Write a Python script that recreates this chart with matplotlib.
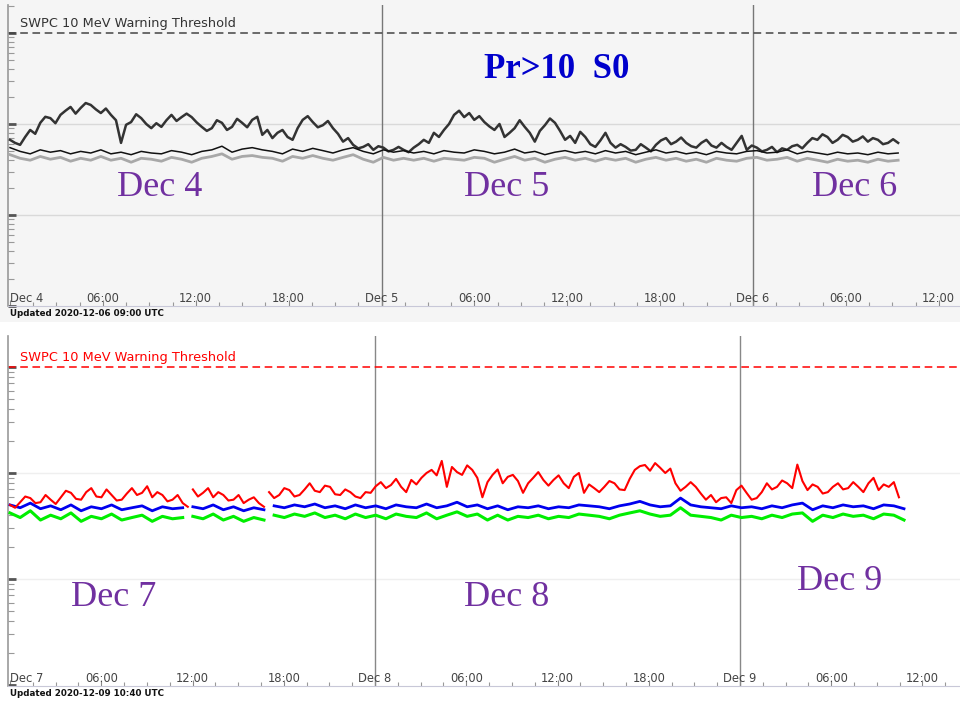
import numpy as np
import matplotlib
matplotlib.use("Agg")
import matplotlib.pyplot as plt
from matplotlib.patches import Rectangle
from matplotlib.ticker import LogLocator, NullFormatter, FixedLocator
import matplotlib.transforms as mtransforms

nan = float("nan")

# ---------------- data (pfu) ----------------
# Top panel: Dec 4 00:00 UTC onwards
top_dark_step_h = 0.326
top_dark = [0.67,0.62, 0.59,0.72, 0.86,0.78, 1.03,1.20, 1.16,1.02, 1.26,1.40, 1.54,1.30, 1.50,1.70,
            1.62,1.45, 1.32,1.48, 1.26,1.10, 0.62,0.98, 1.05,1.28, 1.16,1.00, 0.90,1.02, 0.93,1.10,
            1.26,1.08, 1.19,1.30, 1.19,1.04, 0.93,0.84, 0.90,1.10, 1.03,0.86, 0.93,1.14, 1.03,0.92,
            1.11,1.20, 0.76,0.86, 0.70,0.80, 0.86,0.72, 0.67,0.90, 1.11,1.22, 1.05,0.92, 0.97,1.08,
            0.90,0.78, 0.64,0.70, 0.59,0.54, 0.56,0.60, 0.52,0.57, 0.55,0.50, 0.52,0.56, 0.52,0.49,
            0.55,0.60, 0.67,0.62, 0.80,0.72, 0.86,1.00, 1.26,1.40, 1.19,1.32, 1.11,1.22, 1.05,0.94,
            0.86,1.00, 0.72,0.80, 0.90,1.10, 0.93,0.80, 0.64,0.84, 0.97,1.15, 1.03,0.84, 0.67,0.74,
            0.62,0.82, 0.72,0.60, 0.56,0.66, 0.80,0.62, 0.55,0.60, 0.56,0.51, 0.52,0.60, 0.55,0.50,
            0.59,0.66, 0.70,0.60, 0.64,0.71, 0.62,0.57, 0.55,0.62, 0.67,0.58, 0.55,0.62, 0.56,0.52,
            0.62,0.74, 0.52,0.58, 0.55,0.50, 0.52,0.56, 0.49,0.54, 0.52,0.57, 0.59,0.54, 0.62,0.70,
            0.67,0.77, 0.72,0.62, 0.67,0.76, 0.72,0.64, 0.67,0.73, 0.64,0.70, 0.67,0.60, 0.62,0.68,
            0.62]
top_step_h = 0.652
top_black = [0.55,0.50,0.47,0.52,0.49,0.51,0.47,0.50,0.48,0.52,0.47,0.49,0.46,0.50,0.48,0.47,
             0.51,0.49,0.46,0.50,0.52,0.57,0.49,0.53,0.55,0.52,0.50,0.47,0.53,0.50,0.54,0.51,
             0.48,0.52,0.55,0.50,0.47,0.52,0.49,0.51,0.48,0.50,0.47,0.51,0.49,0.48,0.52,0.50,
             0.47,0.49,0.53,0.48,0.50,0.46,0.49,0.51,0.48,0.50,0.47,0.51,0.48,0.50,0.46,0.49,
             0.52,0.48,0.50,0.47,0.49,0.46,0.50,0.48,0.47,0.50,0.51,0.48,0.49,0.52,0.47,0.50,
             0.48,0.46,0.49,0.47,0.48,0.46,0.49,0.47,0.48]
top_gray = [0.46,0.42,0.40,0.44,0.41,0.43,0.39,0.42,0.40,0.44,0.40,0.42,0.38,0.42,0.41,0.39,
            0.43,0.41,0.38,0.42,0.44,0.47,0.41,0.44,0.45,0.43,0.42,0.39,0.44,0.42,0.45,0.42,
            0.40,0.43,0.46,0.41,0.38,0.43,0.40,0.42,0.40,0.42,0.39,0.42,0.41,0.40,0.43,0.42,
            0.38,0.41,0.44,0.40,0.42,0.38,0.41,0.43,0.40,0.42,0.39,0.42,0.40,0.42,0.38,0.41,
            0.43,0.40,0.42,0.39,0.41,0.38,0.42,0.40,0.39,0.42,0.43,0.40,0.41,0.43,0.39,0.42,
            0.40,0.38,0.41,0.39,0.40,0.38,0.41,0.39,0.40]

# Bottom panel: Dec 7 00:00 UTC onwards (nan = data gap)
bot_red_step_h = 0.334
bot_red = [0.50,0.47, 0.53,0.60, 0.58,0.52, 0.53,0.62, 0.56,0.51, 0.59,0.68, 0.65,0.57, 0.56,0.66,
           0.72,0.60, 0.59,0.70, 0.62,0.55, 0.56,0.64, 0.72,0.62, 0.65,0.75, 0.59,0.66, 0.62,0.54,
           0.56,0.62, 0.52,0.48, nan, 0.70,0.60, 0.65,0.72, 0.59,0.66, 0.62,0.55, 0.56,0.62,
           0.52,0.56, 0.59,0.52, 0.48, nan, 0.66,0.58, 0.62,0.72, 0.69,0.60, 0.62,0.70, 0.80,0.68,
           0.66,0.76, 0.74,0.63, 0.62,0.70, 0.66,0.60, 0.58,0.66, 0.65,0.75, 0.82,0.72, 0.77,0.88,
           0.74,0.66, 0.86,0.78, 0.90,1.00, 1.07,0.95, 1.30,0.74, 1.14,1.02, 0.96,1.18, 1.07,0.90,
           0.59,0.82, 0.96,1.08, 0.80,0.92, 0.96,0.84, 0.65,0.80, 0.90,1.02, 0.86,0.76, 0.86,0.95,
           0.80,0.72, 0.92,1.00, 0.65,0.78, 0.72,0.66, 0.74,0.84, 0.80,0.70, 0.69,0.88, 1.07,1.16,
           1.19,1.05, 1.24,1.12, 1.00,1.10, 0.80,0.68, 0.74,0.82, 0.74,0.64, 0.56,0.62, 0.53,0.58,
           0.59,0.52, 0.69,0.76, 0.65,0.56, 0.58,0.66, 0.80,0.70, 0.74,0.85, 0.80,0.72, 1.20,0.84,
           0.69,0.78, 0.74,0.64, 0.66,0.74, 0.80,0.70, 0.72,0.82, 0.74,0.66, 0.80,0.90, 0.69,0.78,
           0.74,0.82, 0.59]
bot_step_h = 0.668
bot_blue = [0.50,0.47,0.52,0.46,0.49,0.45,0.50,0.44,0.48,0.46,0.50,0.45,0.47,0.49,0.44,0.48,
            0.46,0.47,nan,0.48,0.46,0.50,0.45,0.48,0.44,0.47,0.45,nan,0.49,0.47,0.50,0.48,0.51,
            0.47,0.49,0.46,0.50,0.47,0.49,0.46,0.50,0.48,0.47,0.51,0.47,0.49,0.53,0.48,0.50,
            0.46,0.49,0.45,0.48,0.47,0.49,0.46,0.48,0.47,0.50,0.49,0.48,0.46,0.49,0.51,0.54,
            0.50,0.48,0.49,0.58,0.50,0.48,0.47,0.46,0.49,0.47,0.48,0.46,0.49,0.47,0.50,0.52,
            0.45,0.49,0.47,0.50,0.48,0.49,0.46,0.50,0.49,0.46]
bot_green = [0.42,0.38,0.44,0.36,0.40,0.37,0.42,0.35,0.39,0.37,0.41,0.36,0.38,0.40,0.35,0.39,
             0.37,0.38,nan,0.39,0.37,0.41,0.36,0.39,0.35,0.38,0.36,nan,0.40,0.38,0.41,0.39,0.42,
             0.38,0.40,0.37,0.41,0.38,0.40,0.37,0.41,0.39,0.38,0.42,0.37,0.40,0.43,0.39,0.41,
             0.36,0.40,0.36,0.39,0.38,0.40,0.37,0.39,0.38,0.41,0.40,0.39,0.37,0.40,0.42,0.44,
             0.41,0.39,0.40,0.47,0.40,0.39,0.38,0.36,0.40,0.38,0.39,0.37,0.40,0.38,0.41,0.42,
             0.35,0.40,0.38,0.41,0.39,0.40,0.37,0.41,0.40,0.36]

threshold = 10.0
top_tick_labels = ["Dec 4", "06:00", "12:00", "18:00", "Dec 5", "06:00", "12:00", "18:00",
                   "Dec 6", "06:00", "12:00"]
bot_tick_labels = ["Dec 7", "06:00", "12:00", "18:00", "Dec 8", "06:00", "12:00", "18:00",
                   "Dec 9", "06:00", "12:00"]
top_day_labels = ["Dec 4", "Dec 5", "Dec 6"]
bot_day_labels = ["Dec 7", "Dec 8", "Dec 9"]

# ---------------- figure ----------------
W, H = 960, 704
fig = plt.figure(figsize=(W / 100, H / 100), dpi=100, facecolor="white")


def fx(px):
    return px / W


def fy(py):
    return 1 - py / H


bgax = fig.add_axes([0, fy(322), 1, 1 - fy(322)], zorder=-5)
bgax.set_axis_off()
bgax.add_patch(Rectangle((0, 0), 1, 1, transform=bgax.transAxes, facecolor="#f5f5f5",
                         edgecolor="none"))


def sample_times(vals, step):
    # each real sample advances one step; a nan marks a break half a step after the previous one
    t, cur = [], 0.0
    for v in vals:
        if v != v:
            t.append(cur - step / 2)
        else:
            t.append(cur)
            cur += step
    return np.array(t)


def make_panel(top_px, bot_px, thr_px, decade_px, x0_px, day_px, bg, thr_color, grid_color,
               vline_color, tick_labels, series, thr_text_color):
    ax = fig.add_axes([fx(8), fy(bot_px), fx(960 - 8), (bot_px - top_px) / H], zorder=1)
    ax.set_facecolor(bg)
    ax.set_yscale("log")
    ax.set_ylim(10 ** (1 - (bot_px - thr_px) / decade_px), 10 ** (1 + (thr_px - top_px) / decade_px))
    pxh = day_px / 24.0
    ax.set_xlim((8 - x0_px) / pxh, (960 - x0_px) / pxh)
    for s in ["top", "right"]:
        ax.spines[s].set_visible(False)
    ax.spines["left"].set_color("#999999")
    ax.spines["left"].set_linewidth(1.2)
    ax.spines["bottom"].set_color("#c8c8d8")
    ax.spines["bottom"].set_linewidth(0.8)

    ax.yaxis.set_major_locator(LogLocator(base=10, numticks=10))
    ax.yaxis.set_minor_locator(LogLocator(base=10, subs=np.arange(2, 10), numticks=20))
    ax.yaxis.set_major_formatter(NullFormatter())
    ax.yaxis.set_minor_formatter(NullFormatter())
    ax.tick_params(axis="y", which="major", direction="in", length=6, width=2, color="#555555")
    ax.tick_params(axis="y", which="minor", direction="in", length=4, width=0.8, color="#999999")

    ax.xaxis.set_major_locator(FixedLocator(np.arange(0, 61, 6)))
    ax.xaxis.set_minor_locator(FixedLocator(np.arange(0, 63, 1.5)))
    ax.xaxis.set_major_formatter(NullFormatter())
    ax.tick_params(axis="x", which="major", direction="in", length=4, width=0.8, color="#888888")
    ax.tick_params(axis="x", which="minor", direction="in", length=3, width=0.8, color="#999999")
    trans = mtransforms.blended_transform_factory(ax.transData, ax.transAxes)
    for i, lab in enumerate(tick_labels):
        ax.text(i * 6, 0.004, lab, transform=trans, ha="left" if i == 0 else "center",
                va="bottom", fontsize=8.3, color="#444444", family="DejaVu Sans")

    for v in [1.0, 0.1]:
        ax.axhline(v, color=grid_color, lw=1.0, zorder=1)
    for d in [24, 48]:
        ax.axvline(d, color=vline_color, lw=1.0, zorder=1)
    ax.axhline(threshold, color=thr_color, lw=1.1, ls=(0, (5, 3)), zorder=2)
    ax.text((20 - x0_px) / pxh, threshold * 1.07, "SWPC 10 MeV Warning Threshold",
            fontsize=9.3, color=thr_text_color, ha="left", va="bottom", family="DejaVu Sans")

    for vals, step, color, lw, z in series:
        t = sample_times(vals, step)
        ax.plot(t, vals, color=color, lw=lw, zorder=z)
    return ax


ax1 = make_panel(5, 306, 33, 91, 10, 371.5, "#f5f5f5", "#444444", "#d9d9d9", "#777777",
                 top_tick_labels,
                 [(top_gray, top_step_h, "#a8a8a8", 2.0, 3),
                  (top_dark, top_dark_step_h, "#333333", 1.8, 4),
                  (top_black, top_step_h, "#111111", 1.1, 5)],
                 "#333333")

ax2 = make_panel(336, 686, 367, 106, 10, 365.0, "white", "#ff0000", "#efefef", "#888888",
                 bot_tick_labels,
                 [(bot_green, bot_step_h, "#00ee00", 2.2, 3),
                  (bot_blue, bot_step_h, "#0000ee", 2.0, 4),
                  (bot_red, bot_red_step_h, "#ff0000", 1.5, 5)],
                 "#ff0000")

fig.text(fx(10), fy(313), "Updated 2020-12-06 09:00 UTC", fontsize=6.3, fontweight="bold",
         color="#111111", ha="left", va="center")
fig.text(fx(10), fy(694), "Updated 2020-12-09 10:40 UTC", fontsize=6.3, fontweight="bold",
         color="#111111", ha="left", va="center")

serif = ["Liberation Serif", "DejaVu Serif"]
fig.text(fx(557), fy(70), "Pr>10  S0", fontsize=25, fontweight="bold", color="#0000cc",
         ha="center", va="center", family=serif)
purple = "#7030a0"
for lab, (px, py) in zip(top_day_labels, [(160, 188), (507, 188), (855, 188)]):
    fig.text(fx(px), fy(py), lab, fontsize=26, color=purple, ha="center", va="center", family=serif)
for lab, (px, py) in zip(bot_day_labels, [(114, 598), (507, 598), (840, 582)]):
    fig.text(fx(px), fy(py), lab, fontsize=26, color=purple, ha="center", va="center", family=serif)

fig.savefig("out.png", dpi=100, facecolor="white")
